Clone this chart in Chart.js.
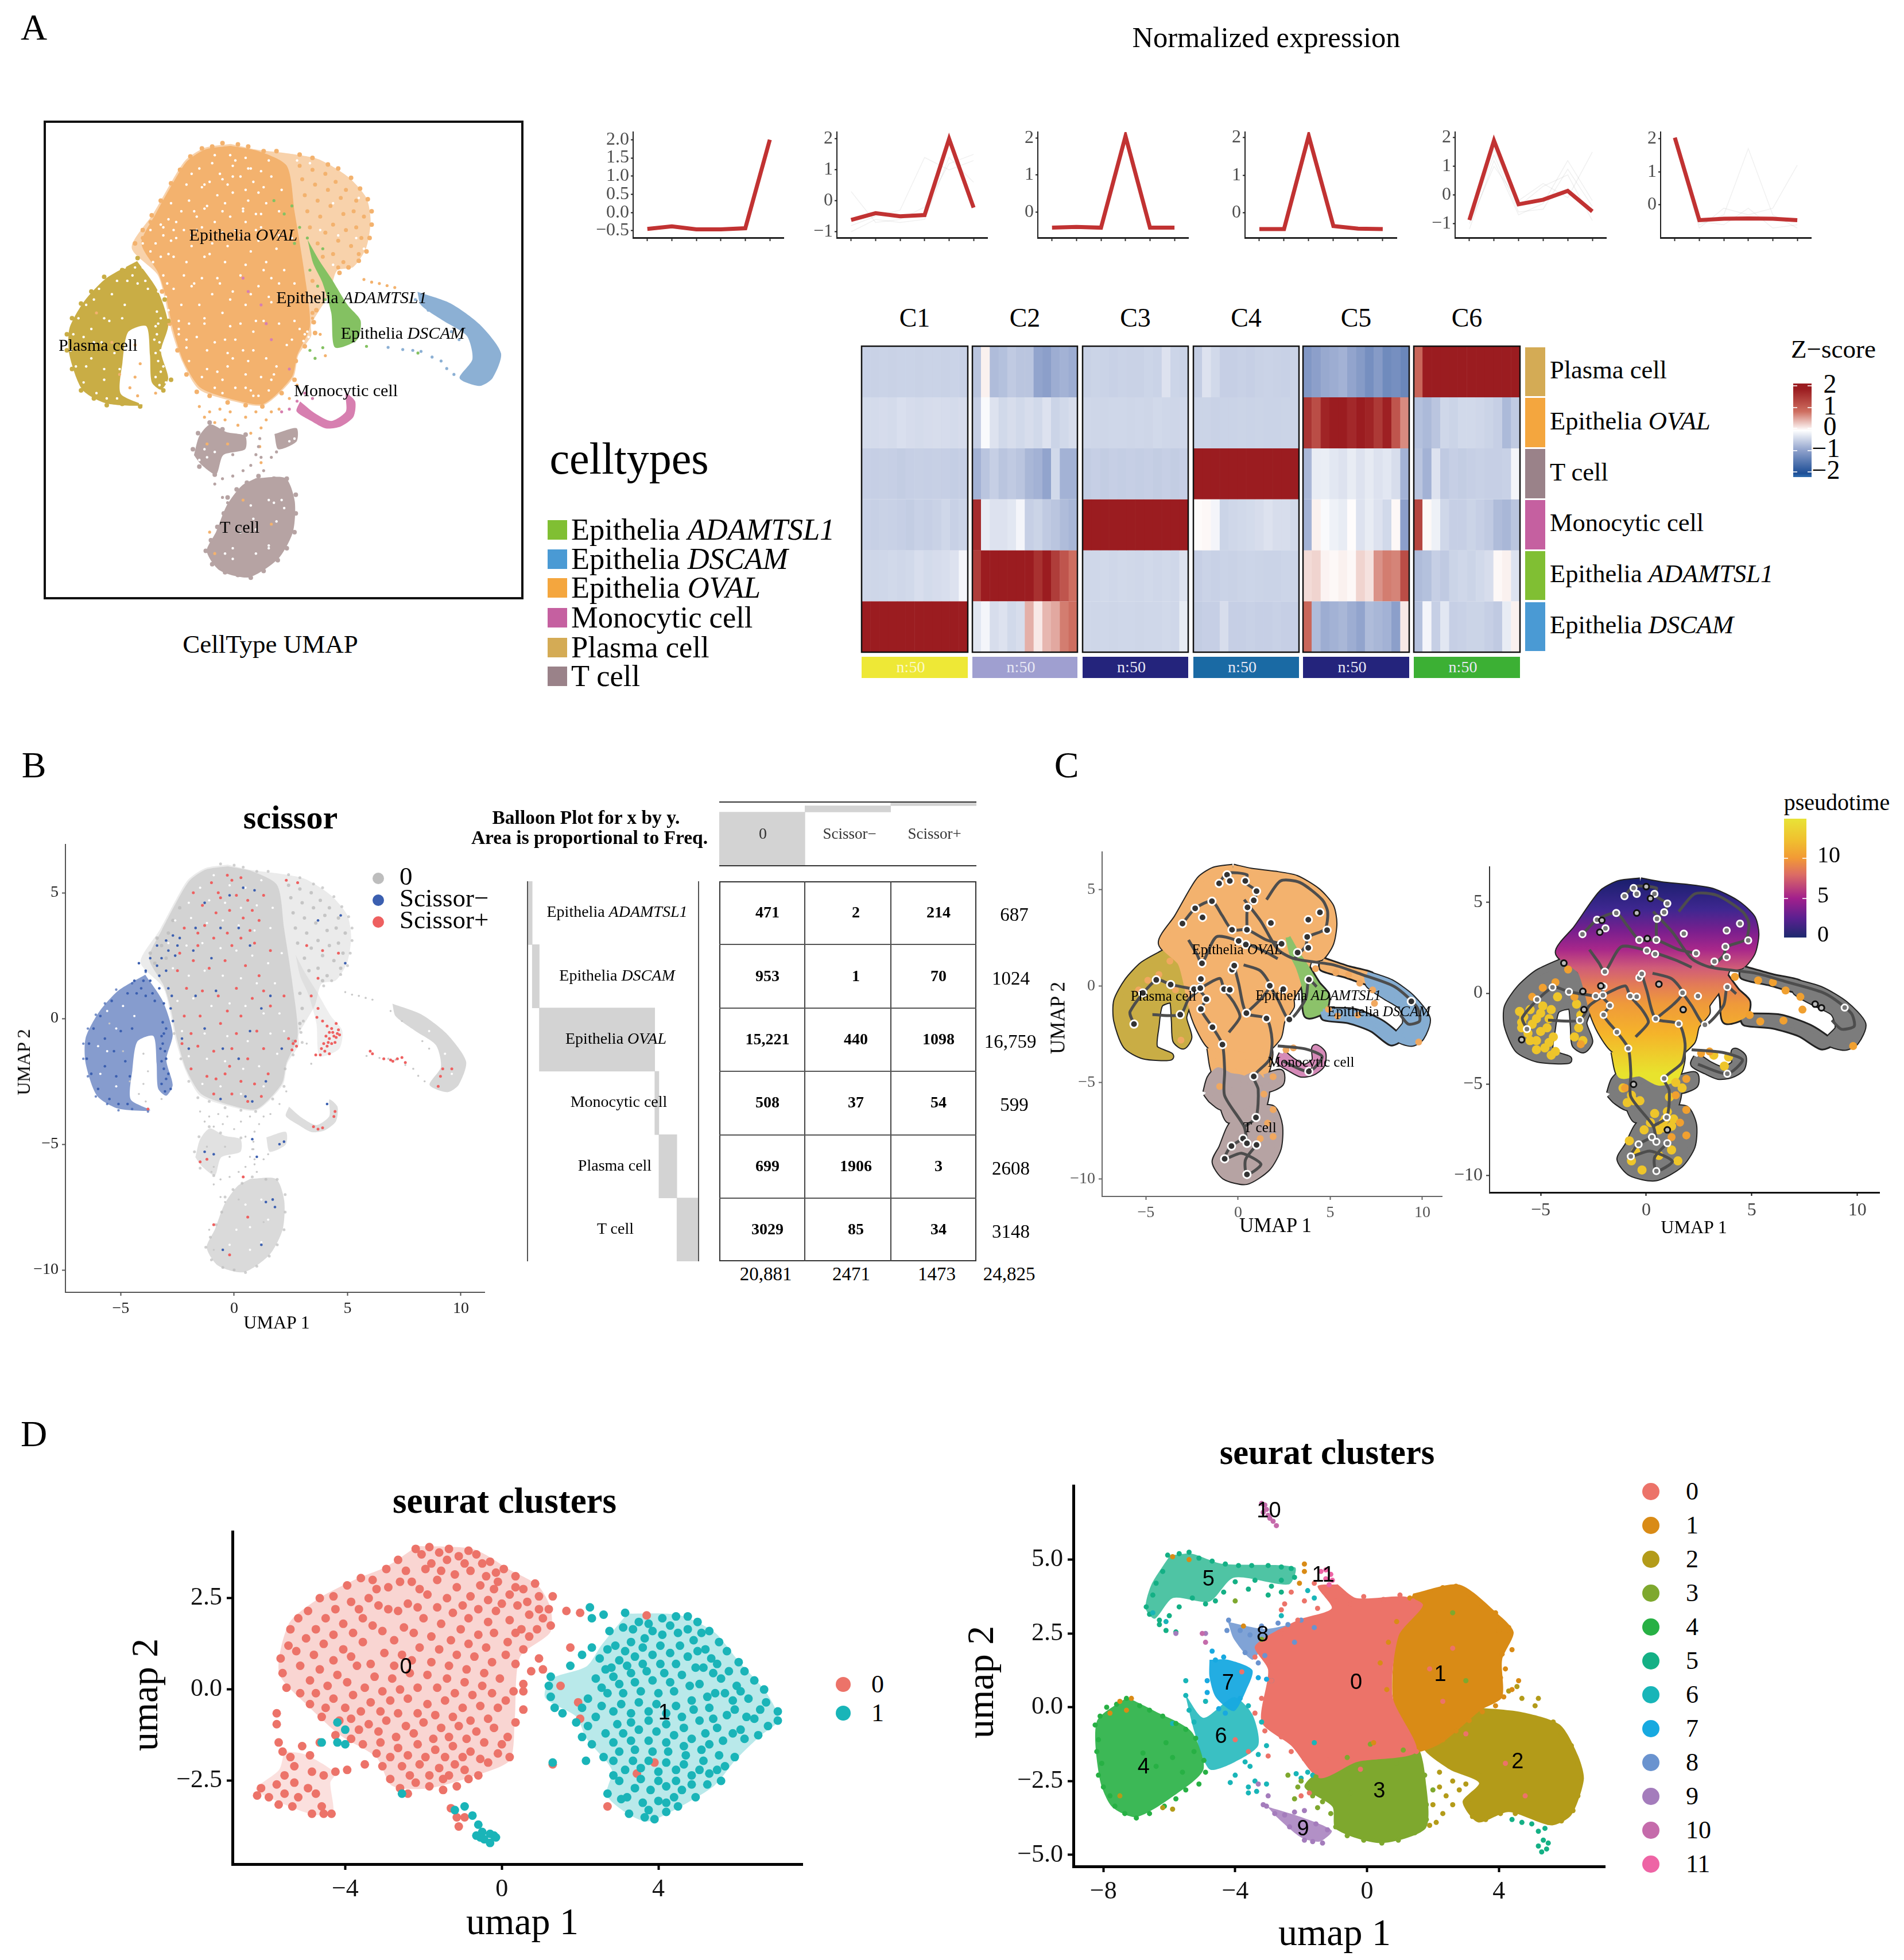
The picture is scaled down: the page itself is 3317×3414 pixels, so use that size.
<!DOCTYPE html>
<html>
<head>
<meta charset="utf-8">
<title>Cell type figure</title>
<script src="https://cdn.jsdelivr.net/npm/chart.js@4"></script>
<style>
html,body{margin:0;padding:0;background:#fff}
body{position:relative;width:3317px;height:3414px;overflow:hidden;font-family:"Liberation Serif",serif}
canvas{position:absolute}
.t{position:absolute;white-space:nowrap;transform:translate(-50%,-50%);color:#000;line-height:1}
.b{position:absolute}
</style>
</head>
<body>
<script>
// ---------- data ----------
const cellTypes = ['Epithelia ADAMTSL1','Epithelia DSCAM','Epithelia OVAL','Monocytic cell','Plasma cell','T cell'];
const rowTotals = [687,1024,16759,599,2608,3148];
const colNames = ['0','Scissor−','Scissor+'];
const colTotals = [20881,2471,1473];
const grandTotal = 24825;
const tableRows = [['471','2','214'],['953','1','70'],['15,221','440','1098'],['508','37','54'],['699','1906','3'],['3029','85','34']];
const rowTotalLabels = ['687','1024','16,759','599','2608','3148'];
const colTotalLabels = ['20,881','2471','1473','24,825'];

const umapTicksX = [-5,0,5,10];
const umapTicksY = [-10,-5,0,5];

// cluster trend lines, six time points each
const lineC1 = [-0.45,-0.38,-0.46,-0.46,-0.43,2.0];
const lineC2 = [-0.62,-0.4,-0.5,-0.46,2.0,-0.22];
const lineC3 = [-0.42,-0.4,-0.42,2.05,-0.42,-0.42];
const lineC4 = [-0.43,-0.43,2.05,-0.35,-0.42,-0.43];
const lineC5 = [-0.88,1.9,-0.33,-0.17,0.14,-0.58];
const lineC6 = [2.03,-0.46,-0.42,-0.41,-0.42,-0.46];
const faintC2 = [[-1.0,-0.6,-0.7,-0.6,1.4,0.6],[0.3,-0.7,-0.6,-0.2,1.2,1.5],[-0.8,-0.5,-0.3,1.4,1.0,1.3]];
const faintC5 = [[-1.2,1.2,-0.7,-0.3,1.2,-0.2],[-0.6,1.6,-0.4,0.3,0.7,-0.9],[-1.0,1.0,-0.2,0.4,-0.1,1.5],[-0.8,1.4,-0.6,-0.5,0.9,-0.4]];
const faintC6 = [[2.0,-0.6,-0.3,1.7,-0.3,-0.7],[1.9,-0.7,-0.1,-0.3,-0.1,1.2],[2.0,-0.5,-0.6,-0.1,-0.7,-0.6]];

// heatmap z scores: rows Plasma, OVAL, T, Monocytic, ADAMTSL1, DSCAM
const heatC1 = [
 [-.48,-.47,-.46,-.47,-.46,-.46,-.47,-.46,-.46,-.47,-.46,-.48],
 [-.38,-.37,-.36,-.37,-.33,-.36,-.37,-.36,-.35,-.36,-.37,-.36],
 [-.5,-.5,-.49,-.5,-.52,-.5,-.49,-.5,-.49,-.5,-.51,-.5],
 [-.48,-.49,-.47,-.48,-.5,-.52,-.48,-.5,-.47,-.42,-.48,-.44],
 [-.42,-.43,-.42,-.4,-.42,-.4,-.34,-.38,-.36,-.34,-.3,-.1],
 [2,2,2,2,2,2,2,2,2,2,2,2]];
const heatC2 = [
 [-.6,.1,-.7,-.65,-.55,-.6,-.6,-.95,-1,-.85,-.8,-.85],
 [-.5,-.05,-.3,-.4,-.35,-.4,-.35,-.4,-.3,-.45,-.4,-.35],
 [-.8,-.6,-.5,-.6,-.55,-.6,-.75,-.8,-.95,-.4,-.8,-.8],
 [1.8,-.2,-.3,-.3,-.25,-.1,-.5,-.45,-.55,-.6,-.7,-.75],
 [1.6,2,2,2,2,2,2,1.75,2,1.6,1.3,1.0],
 [-.25,-.1,-.35,-.3,-.4,-.35,.55,.15,.5,.6,.9,1.0]];
const heatC3 = [
 [-.47,-.45,-.46,-.48,-.46,-.47,-.47,-.44,-.46,-.3,-.44,-.46],
 [-.42,-.43,-.43,-.42,-.42,-.43,-.42,-.43,-.4,-.42,-.43,-.42],
 [-.52,-.5,-.52,-.5,-.51,-.5,-.51,-.5,-.52,-.5,-.52,-.5],
 [2,2,2,2,2,2,2,2,2,2,2,2],
 [-.42,-.42,-.4,-.42,-.4,-.41,-.42,-.4,-.42,-.4,-.42,-.3],
 [-.42,-.43,-.42,-.43,-.42,-.42,-.43,-.42,-.42,-.4,-.42,-.2]];
const heatC4 = [
 [-.52,-.3,-.4,-.5,-.5,-.48,-.5,-.47,-.46,-.47,-.48,-.46],
 [-.45,-.45,-.47,-.46,-.46,-.45,-.46,-.45,-.46,-.46,-.45,-.46],
 [2,2,2,2,2,2,2,2,2,2,2,2],
 [.03,.05,-.1,-.45,-.42,-.4,-.38,-.35,-.3,-.35,-.35,-.4],
 [-.5,-.46,-.48,-.46,-.47,-.45,-.44,-.45,-.46,-.46,-.44,-.45],
 [-.52,-.5,-.5,-.35,-.5,-.5,-.48,-.5,-.5,-.48,-.5,-.5]];
const heatC5 = [
 [-1.1,-1,-.9,-.85,-.8,-.95,-1.05,-1.2,-1.05,-1.25,-1.2,-1.3],
 [1.7,1.4,1.9,2,2,1.85,2,1.9,1.65,1.95,1.3,.8],
 [-.75,-.2,-.18,-.25,-.3,-.2,-.3,-.22,-.3,-.25,-.35,-.8],
 [-.8,.1,-.05,-.15,-.2,.02,-.3,-.2,-.3,-.4,.05,-1],
 [.25,.3,.08,.05,.1,.05,.3,.2,.75,.9,.85,1.4],
 [1.1,-.7,-.85,-.8,-.75,-.85,-.95,-.7,-.75,-.8,-1,.15]];
const heatC6 = [
 [1.1,2,2,2,2,2,2,2,2,2,2,2],
 [-.65,-.72,-.6,-.42,-.45,-.4,-.4,-.42,-.45,-.5,-.72,-.55],
 [-.6,-.8,-.3,-.55,-.5,-.52,-.5,-.48,-.5,-.5,-.48,-.1],
 [1.5,.05,-.15,-.42,-.5,-.5,-.45,-.5,-.55,-.7,-.75,-.6],
 [-.7,-.65,-.5,-.55,-.45,-.42,-.45,-.4,-.35,.05,.1,-.3],
 [-.65,-.1,-.5,-.25,-.5,-.48,-.45,-.45,-.5,-.55,-.2,.1]];

// UMAP region outlines shared by panels A, B and C
const ovalOutline = [[-.28,6.12],[.71,5.91],[2,5.76],[3.13,5.55],[4.27,4.9],[4.99,4.11],[5.16,3.25],[4.99,2.24],[4.49,1.52],[3.85,1.38],[3.56,.52],[2.85,-.63],[2.85,-1.06],[2.35,-1.78],[2.14,-2.64],[1,-3.65],[-.14,-3.51],[-1.5,-3.07],[-2.14,-2.07],[-2.56,-.92],[-2.85,.37],[-3.13,1.24],[-4.13,2.24],[-3.28,3.53],[-2.42,4.97],[-2,5.55],[-1.28,5.98]];
const ovalCore = [[-.28,6.05],[.8,5.85],[1.9,5.3],[2.2,3.6],[2.6,1.2],[2.8,-.7],[2.3,-1.8],[2.1,-2.6],[1,-3.6],[-.14,-3.45],[-1.45,-3.0],[-2.1,-2.05],[-2.5,-.9],[-2.8,.4],[-3.1,1.3],[-3.75,2.4],[-3.2,3.5],[-2.35,4.95],[-1.95,5.5],[-1.25,5.92]];
const plasmaOutline = [[-3.92,1.74],[-5.13,1.09],[-5.98,.23],[-6.55,-.78],[-6.55,-1.78],[-6.05,-3.07],[-5.13,-3.58],[-3.7,-3.65],[-4.56,-3.22],[-4.49,-2.07],[-4.27,-.92],[-3.56,-.7],[-3.42,-1.78],[-3.35,-2.79],[-2.99,-3.07],[-2.71,-2.64],[-2.99,-1.64],[-2.71,-.63],[-3.13,.66]];
const tLower = [[.71,-6.38],[1.85,-6.38],[2.21,-7.24],[2.14,-8.39],[1.57,-9.39],[.43,-10.09],[-.71,-9.83],[-1.21,-9.11],[-.85,-8.39],[-.43,-7.39],[.14,-6.67]];
const tUpperLeft = [[-1.71,-5.52],[-1.5,-4.8],[-1.07,-4.37],[-.43,-4.66],[.28,-4.8],[.28,-5.3],[-.57,-5.52],[-.85,-6.24],[-1.42,-5.88]];
const tUpperRight = [[1.42,-4.73],[2.28,-4.51],[2.28,-5.01],[1.57,-5.3]];
const monoRing = [[2.42,-3.51],[2.99,-3.95],[3.63,-4.24],[4.2,-3.88],[4.2,-3.22],[4.56,-3.51],[4.49,-4.09],[3.99,-4.45],[3.42,-4.52],[2.85,-4.24],[2.28,-3.88]];
const adamArm = [[2.71,2.53],[3.13,1.81],[3.63,1.09],[4.27,.09],[4.77,-.49],[4.63,-1.21],[3.77,-1.49],[3.63,-.2],[3.28,.95],[2.92,1.67]];
const dscamArc = [[6.98,.59],[8.26,.16],[9.4,-.63],[10.23,-1.71],[9.9,-2.64],[9.4,-2.93],[8.62,-2.64],[9.12,-1.93],[8.9,-1.06],[7.98,-.49],[7.12,.09]];
const neckFill = [[-1.5,-3.2],[1.6,-3.2],[1.4,-4.6],[.6,-4.9],[-.3,-4.4],[-1.2,-4.5]];
const tBridge = [[-.9,-5.6],[.9,-4.6],[1.5,-5.3],[1.2,-6.5],[.1,-6.8],[-.5,-6.9],[-.8,-6.2]];
const dscamBridge = [[4.6,1.3],[6,.85],[7.2,.55],[7.2,.2],[5.9,.6],[4.6,.95]];
const dscamTail = [[4.6,-1.3],[6.3,-1.35],[7.7,-1.9],[8.7,-2.7],[8.3,-2.9],[7.3,-2.2],[6,-1.75],[4.7,-1.6]];

const ovalEdge = [[-.6,6.15],[0,6.1],[.4,6.02],[1,5.85],[1.5,5.85],[2.4,5.72],[2.9,5.6],[3.5,5.35],[3.9,5.2],[4.4,4.85],[4.75,4.45],[5.05,4.05],[5.2,3.6],[5.2,3.1],[5.12,2.6],[5,2.1],[4.7,1.75],[4.3,1.5],[3.95,1.3],[3.05,-.1],[2.95,-.55],[3,-.95],[2.6,-1.45],[2.25,-2],[2.2,-2.7],[1.7,-3.2],[.95,-3.7],[.3,-3.65],[-.4,-3.55],[-1.1,-3.3],[-1.6,-3.15],[-2,-2.5],[-2.35,-1.6],[-2.65,-.6],[-2.95,.6],[-4,2.4],[-3.7,2.9],[-3.35,3.45],[-3,4],[-2.6,4.65],[-2.25,5.15],[-1.85,5.65],[-1.4,5.95],[-1,6.02]];
const sparseOval = [[2.4,5.3],[2.9,5.15],[3.4,5],[3.8,4.7],[4.2,4.4],[4.6,4],[2.5,4.8],[3,4.6],[3.5,4.4],[4,4.1],[4.5,3.6],[4.9,3.4],[2.6,4.2],[3.1,4],[3.6,3.8],[4.1,3.5],[4.6,3],[2.7,3.6],[3.2,3.4],[3.7,3.1],[4.2,2.9],[4.8,2.6],[2.8,3],[3.4,2.8],[3.9,2.5],[4.4,2.3],[4.7,2],[3.1,2.4],[3.7,2],[4.1,1.7],[3.3,1.9],[3.9,1.5],[-3.5,2.2],[-3.7,2.6],[-3.2,2.9],[-2.9,3.4],[-2.7,3.9],[-2.4,4.4],[-3.4,3.2],[-3,2.4],[2.9,1],[3,.4],[2.9,-.2],[2.6,-.9]];
const grainPts = [[-1.5,5.2],[-.9,5.7],[-.2,5.3],[.5,5.2],[1.2,5.5],[-2,4.6],[-1.1,4.7],[-.4,4.6],[.3,4.4],[1,4.5],[1.7,4.4],[-2.6,3.9],[-1.9,4],[-1.2,3.8],[-.5,3.9],[.2,3.7],[.9,3.5],[1.6,3.6],[-2.9,3],[-2.1,2.9],[-1.4,3],[-.6,2.8],[.1,2.7],[.8,2.5],[1.5,2.2],[2.1,2.6],[-2.7,2],[-2,1.7],[-1.3,1.9],[-.5,1.7],[.3,1.6],[1,1.4],[1.8,1.4],[-2.5,.7],[-1.8,.8],[-1,.5],[-.2,.6],[.5,.5],[1.3,.2],[2,.2],[-2.3,-.5],[-1.3,-.6],[-.3,-.7],[.6,-.9],[1.6,-.6],[2.2,-.5],[-2,-1.5],[-1.2,-1.6],[-.4,-1.7],[.4,-2],[1.1,-1.9],[1.9,-1.4],[-1.4,-2.6],[-.6,-2.7],[.3,-3],[1.3,-2.7],[-5.6,.3],[-5.2,-.4],[-6,-1.1],[-5.6,-1.3],[-5.2,-2.7],[-4.9,.5],[-4.4,.1],[-5.9,-2.2],[.5,-7.4],[1.2,-7.2],[1.5,-8],[.7,-8.3],[.1,-8.4],[-.2,-9],[.7,-9.2],[1.2,-8.9],[9.3,-1.4],[9.6,-2.2],[8.6,-.5]];
const tEdge = [[.8,-6.3],[1.4,-6.4],[1.9,-6.4],[2.25,-7],[2.25,-7.7],[2.2,-8.4],[1.9,-9],[1.55,-9.45],[1,-9.85],[.5,-10.1],[0,-10],[-.5,-9.9],[-1,-9.6],[-1.25,-9.1],[-1.05,-8.7],[-.8,-8.2],[-.55,-7.7],[-.4,-7.1],[-.05,-6.8],[.35,-6.55],[-1.75,-5.3],[-1.55,-4.7],[-1.1,-4.3],[-.6,-4.55],[.3,-4.75],[-1.5,-5.95],[-.9,-6.25]];
const plasmaEdge = [[-3.9,1.85],[-4.5,1.4],[-5.2,1.15],[-5.7,.6],[-6.1,.15],[-6.45,-.4],[-6.65,-1],[-6.65,-1.6],[-6.45,-2.3],[-6.1,-3.1],[-5.6,-3.4],[-5.1,-3.65],[-4.5,-3.6],[-3.8,-3.7],[-2.9,-3.1],[-2.6,-2.7],[-2.7,-.5],[-2.85,.3]];

const ovalStray = [[-1.5,-3.7],[-1.3,-4.1],[-1.1,-3.9],[-.9,-4.3],[-.7,-3.8],[-.5,-4.2],[-.3,-3.9],[0,-4.4],[.3,-4.1],[.5,-4.7],[.7,-3.9],[.9,-4.5],[1.1,-4.2],[.85,-5.2],[.9,-5.8],[1.3,-3.9],[1.6,-3.8],[2,-3.4],[2.3,-2.9],[-1.2,-5.1],[-.4,-5.1],[-3.2,-3.2],[-4,-2.6],[-4.2,-3],[-4,-1.4],[-3.8,-2.1],[4.9,1.05],[5.2,.95],[5.5,.9],[5.8,.82],[6.1,.75],[2.9,-.4],[3.2,-1],[3.4,-1.8],[-.9,-9.2],[-1.1,-8.4],[.2,-7.2],[1.3,-8.1],[-3.9,-3.3],[-4.6,-2.5],[-4.9,-1.3],[-5.5,-.2]];
const tStray = [[-1,-6.1],[-.9,-6.6],[-.6,-6.4],[-.4,-7.3],[-.2,-6.3],[.2,-6.1],[.5,-5.9],[.9,-5.6],[1,-6.1],[.8,-5.2],[-.9,-5.9],[-.2,-5.5],[1.3,-5.6],[1.5,-5.4],[.85,-4.9],[.7,-5.5],[-.6,-7.1]];
const greenStray = [[1.4,4],[1.8,3.5],[2.1,3.8],[2.4,3],[2.7,2.6],[2.2,2.4],[3.3,2.2],[2.8,1.4],[3.1,.8],[3.4,.3],[3.3,-1.5],[3,-1.9],[2.8,-1.6],[5,-1.45],[7,-1.7]];
const blueStray = [[5.84,-1.49],[6.41,-1.57],[6.8,-1.6],[7.12,-1.64],[7.55,-1.85],[7.9,-2],[8.12,-2.28],[8.4,-2.5],[8.6,-1.2],[8.3,-.9],[6.9,.3],[7.4,-.1]];
const monoStray = [[1.7,-3.9],[2,-3.8],[2.3,-3.5],[2.6,-3.2],[2.9,-3.4],[.2,1.1],[.4,.6],[.9,.1],[1.1,-.6],[1.3,-1.2],[2,-2.3]];

// scissor panel points
const bluePts = [[-3,3.1],[-2.7,3.3],[-2.5,2.9],[-2.9,2.7],[-3.4,2.9],[-3.7,2.4],[-3.2,2.4],[-4.2,2.2],[-3.9,1.9],[-4.4,1.5],[-4,1.5],[-3.7,1.5],[-3.3,1.2],[-4.7,1],[-4.3,1],[-3.9,.9],[-3.5,.7],[-3.1,.6],[-2.8,.4],[-2.7,-.1],[-3,-.4],[-3.2,-.7],[-3.15,-1],[-3.05,-1.3],[-3.2,-1.7],[-3.1,-2],[-2.9,-2.2],[-3.2,-2.6],[-3.05,-2.9],[-2.8,-2.8],[-5.4,.7],[-5.9,.1],[-6.2,-.4],[-6.4,-1],[-6.5,-1.6],[-6.3,-2.2],[-6,-2.8],[-5.5,-3.2],[-5.1,-3.4],[-4.7,-3.4],[-5.7,-.8],[-5,-.5],[-4.5,-.4],[-5.3,-1.3],[-4.8,-1.7],[-4.6,-2.3],[-5.2,-2.3],[-5.7,-1.9],[-2.3,-.8],[-1.7,.9],[-1,2.4],[-.6,3.6],[.4,5.2],[.9,5.1],[-.5,-1.2],[.7,-.5],[1.6,.9],[1.4,-2.5],[.8,-3.3],[-.6,-3.2],[-1.7,3.6],[-1.3,4.6],[3.7,3.9],[4.7,4.1],[4.9,2.2],[.8,-4.8],[1,-5.5],[2.2,-4.9],[2,-5],[1.7,-7.2],[1.8,-7.5],[1.4,-7.3],[-.5,-9.2],[1.2,-9],[-1.3,-5.3],[-.9,-5.4],[4.1,-3.4],[.5,-3.1],[-2.4,3.2],[-2.6,2.5],[-3.4,2.1],[-3,1.9],[-3.6,1],[-2.9,1.2],[-3.3,1.7],[-4.1,1.2],[-2.75,.9],[-3.15,-.15],[-3.1,-.6],[-3.25,-1.2],[-3,-1.6],[-3,-2.4],[-.2,4.9],[.7,2.9],[-.8,1.1],[-1.3,-.4],[.2,-1.6],[1.2,.4],[-1.8,2.7],[2.1,-1.2],[.2,3.6],[-2,-1.2]];
const redPts = [[-.3,5.7],[-.1,5.5],[.3,5.6],[-1,5.4],[-.7,5],[.1,4.9],[.6,4.7],[1.3,4.9],[2.3,5.5],[2.8,5.4],[-1.8,5],[-1.4,4.5],[-.8,4.2],[-.2,4.3],[.4,4],[1.1,3.9],[-2.2,3.6],[-1.6,3.4],[-.9,3.2],[-.3,3.4],[.3,3.2],[.9,3],[1.6,2.7],[3.2,2.9],[3.9,2.7],[-2.4,2.6],[-1.8,2.3],[-1.1,2],[-.4,2.3],[.5,2.1],[1.1,1.7],[-2.1,1.2],[-1.4,1.1],[-.7,.9],[.1,1.2],[.8,.8],[1.6,.5],[2.2,.9],[-2.2,.1],[-1.5,.1],[-.6,-.2],[.3,.1],[1,-.5],[-2.3,-1],[-1.6,-1.1],[-.9,-1.3],[-.1,-1.2],[.6,-1.6],[1.3,-1.2],[-1.9,-2],[-1.2,-2.3],[-.4,-2.2],[.3,-2.5],[.9,-2.6],[1.5,-2.2],[-.9,-3],[-.1,-3],[.6,-3.3],[1.2,-3.1],[2.4,-.8],[2.6,-1],[2.7,-.9],[2.75,-1.1],[2.55,-1.25],[3.4,.9],[3.7,.4],[3.9,-.1],[4.1,-.3],[4.3,-.4],[4.5,-.2],[4.55,-.6],[4.4,-.7],[4.2,-.8],[4.3,-1],[4.1,-1.1],[4,-1.3],[3.8,-1.45],[4.45,-.95],[4.6,-.45],[3.6,-1.45],[4.2,-1.4],[6.1,-1.4],[6,-1.3],[6.6,-1.6],[6.9,-1.65],[7,-1.7],[7.2,-1.6],[7.4,-1.55],[7.55,-1.75],[9.2,-2],[9.1,-2.3],[9,-2.7],[9.6,-2],[3.7,-4.4],[3.9,-4.35],[3.5,-4.3],[4.4,-3.9],[4.45,-3.7],[.6,-7.9],[-.9,-8.2],[-.2,-9.4],[.4,-6.3],[-1.2,-5.6],[-1.5,-5.7],[-3.8,-3.6],[4.35,-.55],[4.2,-.55],[4.05,-.7],[4.15,-.95],[3.95,-1],[3.85,-1.2],[4.5,-.75],[4.65,-.65],[3.65,.05],[-.6,4.8],[.8,4.3],[-1.6,2.9],[-.1,2.9],[-2.5,1.9],[-.3,.3],[1.3,1.1],[-1.9,-.6],[.1,-.6],[-.8,-2.4],[-.2,-1.9],[-1.3,3.7],[.7,3.5],[3.7,1.6],[4.6,2.6]];

// pseudotime trajectory, panel C
const trajectories = [
 [[.33,4.48],[1.24,3.35],[2.15,1.9],[3.05,1.42],[5.17,1.1],[6.68,.61],[8.49,-.03],[9.7,-1.08],[9.85,-1.81],[9.24,-1.97],[8.79,-1.48]],
 [[1.54,4.48],[2.3,5.45],[3.35,5.37],[4.56,4.48],[4.86,3.84],[4.71,2.95],[3.81,2.55],[3.66,2.06],[3.05,1.42]],
 [[-1.03,5.32],[-.6,5.85],[.48,5.77],[.39,5.37],[1,4.92],[.85,4.44],[.51,4.08],[.48,2.92]],
 [[-3.02,3.24],[-2.33,4.03],[-1.42,4.4],[-.88,3.68],[-.33,2.92],[.48,2.92],[1.54,2.39],[2.36,2.19]],
 [[-2.69,2.39],[-2.24,1.66],[-1.96,1.18],[-1.18,2.55],[.03,2.34],[1.39,1.82],[2.15,1.42]],
 [[-2.02,.37],[-2.08,-.19],[-1.72,-.68],[-2.02,-1.19],[-1.39,-2.13],[-.85,-3.03],[-.73,-4.39],[-.73,-5.68],[.33,-7.29],[.48,-8.15]],
 [[-.21,1.06],[.03,.13],[.45,-1.4],[1.54,-1.68],[1.84,-2.77],[1.69,-3.82],[.85,-4.68],[1.09,-5.35],[.97,-6.81],[.33,-7.29]],
 [[.27,-7.9],[-.42,-8.34],[-.73,-8.95],[.18,-8.66],[1.24,-9.23],[.48,-9.76],[.4,-9],[1,-8.23]],
 [[-5.65,-1.97],[-5.86,-1.32],[-4.44,.32],[-3.66,.08],[-2.39,-.16]],
 [[-4.65,-1.48],[-3.14,-1.48],[-2.69,-.68],[-2.08,-.19]],
 [[1.72,.02],[2.15,-.68],[2.78,-1.73],[3.66,-.68],[3.84,.34],[4.26,-.03]],
 [[2.15,-3.1],[3.66,-3.26],[4.56,-3.66],[3.84,-4.42],[2.45,-3.9]],
 [[-2.05,-.11],[-1,.4],[-.76,-.16],[-.2,-.9],[.1,-1.6],[-.5,-2.4]],
 [[.45,-1.4],[1.3,-.6],[1.72,.02],[1.2,.8],[.3,1.1]]];
const trajNodes = [[-.6,5.77],[-1.03,5.32],[-.45,5.45],[.39,5.45],[1,4.92],[.85,4.44],[.51,4.08],[-1.42,4.4],[-2.33,4.03],[-1.93,3.56],[-3.02,3.24],[-.33,2.92],[.48,2.92],[1.78,3.27],[.03,2.34],[.42,2.15],[2.36,2.19],[3.23,1.74],[3.75,2.55],[3.81,1.98],[3.81,3.44],[4.44,3.82],[4.83,2.9],[-1.96,1.18],[-.33,.85],[-.21,1.06],[-4.44,.32],[-3.66,.08],[-2.02,.37],[-2.39,-.16],[-2.05,-.11],[-.76,-.16],[-.45,-.19],[-1.72,-.68],[-2.02,-1.19],[-3.14,-1.48],[-5.65,-1.97],[.45,-1.4],[1.54,-1.68],[2.78,-1.73],[-1.39,-2.13],[-.85,-3.03],[3.84,.34],[1.72,.02],[2.45,-.16],[.85,-4.68],[.97,-6.81],[.27,-7.9],[.48,-8.15],[1,-8.23],[-.36,-8.29],[-.73,-8.95],[.48,-9.76],[3.84,-4.42],[9.4,-.79],[-5.17,-.35]];
const rootNodes = [[0,5.85],[.2,5.2],[-.45,4.4],[-2.1,4],[-2.2,3.35],[.05,3],[.6,.5],[-2.15,.4],[-3,.1],[-2.95,-.9],[1.75,-.9],[-5.9,-2.55],[-.6,-5],[1,-7.5],[8,-.6],[8.3,-.8],[-3.9,1.65]];
const yellowDots = [[-5.9,-1.6],[-5.5,-.9],[-5.2,-1.4],[-5.6,-2.2],[-4.9,-.7],[-4.7,-1.9],[-4.4,-2.4],[-4.2,-.2],[-5.2,-2.6],[-4.8,-3],[-4.3,-3.2],[-3.4,-2.4],[-3.1,-1.2],[-.7,-5.6],[-.9,-6],[-.6,-5.9],[1.3,-6.9],[1,-6.5],[.8,-7.1],[.4,-6.6],[-.1,-7.5],[-.5,-8.7],[-.7,-9.2],[-.8,-8.1],[-.2,-9.7],[1.2,-8.6],[1.5,-9.2],[.6,-8.9],[3.2,-3.4],[3.7,-4],[3.9,-3.5],[-6,-1],[-5.8,-1.3],[-5.4,-1.7],[-5,-1.1],[-4.6,-1.4],[-4.5,-.9],[-5.9,-1.9],[-5.5,-2.6],[-5,-2.1],[-4.6,-2.7],[-5.2,-3.1],[-4.5,-3.4],[-3.2,-1.9],[-3,-2.6],[-3.3,-.6],[.9,-7.4],[1.2,-7.3],[.6,-7.5],[.9,-6.9],[.2,-7.1],[-1.1,-5.2],[-.3,-5.9],[1.4,-4.9],[1.7,-5.2],[1.1,-5.7]];
const orangeDots = [[-4.9,.3],[-5.4,-.2],[-4.3,.6],[-3.7,1.3],[-3.4,-.2],[-3.1,-2.8],[1.9,-6.4],[1.6,-7.1],[1.9,-7.8],[1.2,-7.9],[-1,-5.2],[1.9,-4.7],[1.4,-5.6],[2.6,-3.3],[3,-3.2],[4.2,.9],[5.3,.7],[6,.6],[6.6,.15],[7.3,-.2],[7.4,-.9],[5.4,-1.55],[4.9,-1.2],[9.8,-2.9],[6.5,-1.5]];

// seurat clusters, left plot
const seuratLeft0Outline = [[-2.16,3.93],[-.72,3.84],[.2,3.28],[.92,2.85],[1.24,2.25],[1.24,1.57],[.46,.88],[.33,-.83],[.2,-1.94],[-.72,-2.37],[-1.9,-2.71],[-2.81,-2.63],[-3.2,-1.86],[-4.12,-1.26],[-4.91,-.49],[-5.69,.45],[-5.43,1.82],[-4.65,2.51],[-3.73,3.02],[-2.95,3.36]];
const seuratLeft0Tail = [[-5.56,-1.69],[-5.04,-1.77],[-4.25,-2.29],[-4.38,-2.55],[-4.32,-3.4],[-4.91,-3.4],[-6.09,-2.89],[-6.28,-2.71],[-5.69,-2.2]];
const seuratLeft1Outline = [[3.21,2.08],[4.52,2.04],[5.43,1.57],[6.03,.8],[6.74,-.06],[7.07,-.83],[6.61,-1.26],[5.96,-1.94],[5.43,-2.63],[4.52,-3.23],[3.73,-3.61],[3.21,-3.4],[2.68,-2.89],[2.81,-2.2],[2.16,-1.34],[1.9,-.74],[1.11,-.23],[1.24,.28],[2.16,.63],[2.55,1.22]];
const seuratLeft0 = [[-2.2,3.85],[-2.05,3.7],[-1.85,3.9],[-1.6,3.75],[-1.35,3.85],[-1.1,3.65],[-.85,3.8],[-.65,3.7],[-.5,3.45],[-.3,3.5],[-.15,3.2],[.05,3.3],[.35,3.1],[.55,2.75],[.85,2.9],[.95,2.55],[1.3,2.55],[1.2,2.2],[1.05,1.95],[1.25,1.75],[.9,1.65],[.7,1.45],[.55,1.1],[.35,.7],[.1,.95],[.95,.85],[.75,.5],[.55,.15],[.3,-.05],[.55,-.55],[.35,-.9],[.15,-1.3],[.2,-1.85],[-.1,-1.75],[-.35,-2],[-.6,-2.35],[-.95,-2.2],[-1.15,-2.65],[-1.5,-2.45],[-1.85,-2.65],[-2.2,-2.55],[-2.6,-2.7],[-2.85,-2.45],[-3.05,-2.1],[-3.2,-1.75],[-3.55,-1.5],[-3.85,-1.35],[-4.25,-1.25],[-4.15,-.85],[-4.6,-.75],[-4.9,-.4],[-5.15,-.1],[-5.5,.05],[-5.6,.45],[-5.65,.85],[-5.45,1.2],[-5.4,1.65],[-5.2,1.95],[-4.95,2.15],[-4.65,2.5],[-4.3,2.55],[-3.95,2.85],[-3.6,3.05],[-3.3,3],[-2.95,3.3],[-2.65,3.55],[-2.45,3.25],[-2.9,2.8],[-2.3,2.95],[-1.95,3.3],[-1.55,3.25],[-1.2,3.15],[-.8,3.25],[-.55,2.85],[-.2,2.75],[.2,2.6],[.4,2.3],[.7,2.05],[-3.85,2.4],[-3.4,2.5],[-2.9,2.2],[-2.4,2.35],[-1.9,2.6],[-1.4,2.5],[-1,2.3],[-.6,2.2],[-.15,2.15],[.2,1.9],[.5,1.65],[-4.5,1.95],[-4.05,1.8],[-3.55,1.95],[-3.05,1.6],[-2.5,1.7],[-2,1.95],[-1.55,1.8],[-1.05,1.65],[-.6,1.5],[-.2,1.55],[.15,1.3],[-5,1.4],[-4.55,1.25],[-4.05,1.1],[-3.55,1.3],[-3,1],[-2.55,.95],[-2.1,1.15],[-1.6,1.1],[-1.15,.95],[-.7,.9],[-.25,.75],[-5.15,.65],[-4.65,.55],[-4.2,.4],[-3.7,.65],[-3.25,.35],[-2.8,.3],[-2.35,.45],[-1.9,.4],[-1.4,.3],[-.95,.2],[-.5,.1],[-.05,.3],[-4.75,-.1],[-4.3,-.25],[-3.8,-.15],[-3.35,-.35],[-2.85,-.3],[-2.4,-.25],[-1.9,-.4],[-1.45,-.3],[-1,-.5],[-.55,-.45],[-.1,-.5],[-3.85,-.8],[-3.4,-.95],[-2.95,-.85],[-2.45,-1],[-2,-.9],[-1.55,-1.05],[-1.1,-1],[-.65,-1.15],[-.2,-1.05],[-3.1,-1.45],[-2.65,-1.6],[-2.15,-1.5],[-1.7,-1.65],[-1.25,-1.55],[-.8,-1.7],[-2.55,-2.1],[-2.1,-2.05],[-1.6,-2.15],[-1.2,-2.05],[-.55,-1.9],[-5.75,-.65],[-5.75,-.95],[-5.7,-1.45],[-5.6,-1.7],[-5.1,-1.55],[-4.65,-1.45],[-4.9,-1.8],[-5.4,-1.85],[-5.3,-2.1],[-4.85,-2.25],[-4.55,-2.35],[-4.25,-2.25],[-5.55,-2.35],[-5.75,-2.6],[-5.3,-2.55],[-4.95,-2.7],[-6.15,-2.7],[-6.25,-2.9],[-5.95,-2.95],[-5.55,-2.85],[-5.2,-2.95],[-4.75,-2.85],[-5.7,-3.15],[-5.35,-3.2],[-4.6,-3.2],[-4.85,-3.4],[-4.55,-3.4],[-4.35,-3.4],[-1.3,-3.25],[-1.15,-3.5],[-.95,-3.5],[-2.4,-2.85],[-3.5,-2.05],[-3.95,-2.2],[-1.5,-2.75],[1.75,1.15],[1.05,.55],[.55,-.05],[2,2.1],[1.65,2.15],[3.7,2.03],[2,-.8],[1.5,.1],[1.95,-.35],[1.3,-2.05],[3.9,-2.0],[3.45,-2.3],[2.7,-3.2],[-1.1,-3.75],[-1.8,3.45],[-1.4,3.55],[-.95,3.45],[-.4,3.1],[-.1,2.95],[.35,2.8],[.65,2.4],[.95,2.2],[-3.2,2.75],[-2.6,2.95],[-2.1,2.75],[-1.65,3],[-1.15,2.8],[-.8,2.55],[-.35,2.45],[0,2.35],[-4.25,2.2],[-3.65,2.2],[-3.15,2.3],[-2.65,2.15],[-2.15,2.25],[-1.65,2.25],[-1.25,2.1],[-.85,1.95],[-.35,1.85],[.35,1.55],[-4.75,1.65],[-4.3,1.5],[-3.8,1.55],[-3.3,1.75],[-2.75,1.35],[-2.25,1.55],[-1.8,1.45],[-1.3,1.35],[-.85,1.25],[-.4,1.15],[-5.25,1.05],[-4.8,.95],[-4.3,.8],[-3.85,.9],[-3.35,.7],[-2.75,.65],[-2.3,.8],[-1.8,.75],[-1.35,.65],[-.9,.55],[-.45,.45],[-4.9,.25],[-4.45,.1],[-3.95,.2],[-3.5,.05],[-3.05,-.05],[-2.6,0],[-2.15,.05],[-1.65,.05],[-1.2,-.1],[-.75,-.15],[-.25,-.1],[.1,-.3],[-4.5,-.5],[-4,-.5],[-3.6,-.6],[-3.1,-.6],[-2.65,-.65],[-2.15,-.65],[-1.7,-.7],[-1.25,-.75],[-.8,-.85],[-.35,-.8],[-3.65,-1.1],[-3.15,-1.15],[-2.7,-1.3],[-2.25,-1.2],[-1.75,-1.35],[-1.35,-1.3],[-.9,-1.35],[-.45,-1.45],[0,-1.5],[-2.85,-1.85],[-2.4,-1.8],[-1.95,-1.85],[-1.45,-1.85],[-1,-1.85],[-2.35,-2.35],[-1.85,-2.35],[-1.35,-2.35],[-.85,-2.45]];
const seuratLeft1 = [[2.25,2.25],[2.3,1.95],[2.6,2.05],[3.15,2.1],[3.1,1.7],[2.75,1.6],[3.5,1.85],[3.75,1.8],[4.1,1.95],[4.45,2],[4.75,2],[5,1.85],[5.3,1.6],[5.55,1.3],[5.75,1.05],[6.05,.75],[6.2,.5],[6.45,.25],[6.7,0],[6.75,-.35],[7.05,-.6],[7.05,-.85],[6.8,-1],[6.55,-1.25],[6.2,-1.35],[5.95,-1.85],[5.7,-2.1],[5.6,-2.5],[5.25,-2.6],[4.95,-2.95],[4.5,-3.2],[4.2,-3.35],[3.9,-3.55],[3.65,-3.5],[3.25,-3.4],[3.05,-3],[2.7,-2.85],[2.85,-2.35],[2.6,-1.85],[2.3,-1.5],[2.05,-1.3],[1.9,-.9],[1.55,-.65],[1.35,-.5],[1.25,-.2],[1.2,.1],[1.25,.35],[1.75,.65],[2.05,.95],[2.3,1.15],[2.5,.85],[2.65,.55],[2.9,1.2],[3.3,1.3],[3.65,1.4],[4.1,1.5],[4.5,1.55],[4.9,1.35],[5.2,1.1],[5.5,.7],[3,.8],[3.4,.9],[3.85,.95],[4.3,1],[4.75,.9],[5.15,.6],[5.6,.3],[6,.1],[2.4,.3],[2.85,.35],[3.3,.45],[3.7,.5],[4.15,.45],[4.6,.4],[5.05,.15],[5.45,-.1],[5.9,-.3],[6.3,-.25],[2.2,-.25],[2.7,-.1],[3.1,-.1],[3.55,-.05],[4,-.1],[4.4,-.05],[4.85,-.3],[5.3,-.5],[5.75,-.7],[6.25,-.75],[6.6,-.55],[2.4,-.75],[2.85,-.6],[3.3,-.65],[3.75,-.6],[4.2,-.65],[4.6,-.75],[5.05,-.85],[5.5,-1.05],[5.9,-1.2],[2.65,-1.2],[3.1,-1.2],[3.5,-1.1],[3.95,-1.15],[4.4,-1.25],[4.85,-1.35],[5.3,-1.5],[3,-1.7],[3.4,-1.65],[3.85,-1.7],[4.25,-1.7],[4.7,-1.8],[5.15,-1.95],[3.15,-2.2],[3.55,-2.15],[4,-2.25],[4.45,-2.2],[4.85,-2.35],[5.3,-2.3],[3.4,-2.7],[3.8,-2.75],[4.2,-2.65],[4.6,-2.75],[3.6,-3.1],[4,-3.05],[4.4,-2.95],[2.15,-1.95],[1.3,-2],[-.75,-3.45],[-.6,-3.7],[-.5,-3.9],[-.45,-4.1],[-.3,-4.2],[-.55,-4.05],[-.2,-4],[-.3,-3.95],[-.65,-4],[-.15,-4.05],[-.95,-3.2],[-1.2,-3.3],[-4.2,-.9],[-4,-1.1],[-4.6,-1.45],[-4.2,-1.45],[-4,-1.5],[-2.55,-2.85],[3.35,1.65],[3.85,1.6],[4.3,1.75],[4.75,1.65],[5.1,1.55],[2.7,1.1],[3.15,1.05],[3.6,1.15],[4.05,1.2],[4.55,1.2],[5,1.05],[5.35,.85],[2.8,.6],[3.2,.65],[3.6,.7],[4.05,.7],[4.45,.7],[4.95,.6],[5.4,.45],[5.8,.5],[2.55,.05],[3,.15],[3.4,.2],[3.85,.25],[4.3,.2],[4.8,.1],[5.25,-.2],[5.7,-.1],[6.1,-.05],[2.05,-.5],[2.55,-.45],[3.05,-.4],[3.5,-.35],[3.95,-.4],[4.45,-.45],[4.9,-.55],[5.4,-.8],[5.95,-.55],[6.45,-.8],[2.2,-1],[2.95,-.95],[3.3,-.9],[3.75,-.85],[4.2,-.95],[4.65,-1.05],[5.2,-1.2],[5.65,-1.4],[6.1,-1.1],[2.85,-1.45],[3.3,-1.4],[3.75,-1.4],[4.2,-1.45],[4.65,-1.55],[5.1,-1.65],[5.55,-1.8],[2.85,-1.95],[3.35,-1.95],[3.75,-1.95],[4.2,-2],[4.65,-2.05],[5.05,-2.2],[5.5,-2.2],[3,-2.5],[3.55,-2.45],[4,-2.5],[4.45,-2.5],[4.85,-2.6],[3.2,-2.95],[3.75,-3.3],[4.2,-3.1]];

// seurat clusters, right plot
const seurat0Outline = [[-.89,4.16],[-.33,3.7],[1.15,3.75],[1.7,3.46],[.96,2.42],[.78,.34],[1.5,-1.5],[-.3,-1.85],[-1.44,-2.4],[-2.3,-1.3],[-3.2,-.5],[-3,1.26],[-3.4,2.07],[-2.1,2.95],[-1.07,3.35],[-1.5,4.1]];
const seurat1Outline = [[1.4,3.85],[2.81,4.15],[3.98,3.15],[4.45,2.54],[4.1,1.61],[4.1,.34],[3.45,-.1],[2.2,-1.25],[1.3,-1.5],[.78,.34],[.9,2.42]];
const seurat2Outline = [[3.2,0],[4.67,-.16],[5.85,-.59],[6.4,-1.63],[6.58,-2.44],[6.2,-3.65],[5.59,-4],[4.3,-3.55],[3.37,-3.9],[2.9,-3.2],[3.4,-2.56],[2.5,-2.1],[1.7,-1.3]];
const seurat3Outline = [[.1,-1.1],[1.5,-1.3],[1.8,-2.68],[1.78,-4.1],[.41,-4.6],[-.95,-4.12],[-1.05,-3.37],[-1.9,-2.68],[-1,-1.8]];
const seurat4Outline = [[-7.28,.34],[-6.44,-.13],[-5.33,-.82],[-4.96,-2.1],[-5.89,-3.02],[-7,-3.72],[-7.74,-3.37],[-8.11,-2.44],[-8.2,-.48]];
const seurat5Outline = [[-5.98,5.14],[-5.33,5.2],[-4.41,4.86],[-2.19,4.74],[-2.37,4.16],[-4.04,4.39],[-4.78,3.58],[-5.89,3.7],[-6.44,3],[-6.72,3.35],[-6.54,4.16]];
const seurat6Outline = [[-5.52,.45],[-4.96,-.36],[-4.04,.34],[-3.48,-.24],[-3.3,-1.29],[-4.04,-1.87],[-4.78,-2.1],[-5.24,-.82]];
const seurat7Outline = [[-4.78,1.61],[-4.22,1.61],[-3.48,1.26],[-3.67,.57],[-4.04,-.13],[-4.59,.34],[-4.78,1.03]];
const seurat8Outline = [[-4.22,2.89],[-3.11,2.65],[-2,2.83],[-2.19,2.31],[-3.11,2.07],[-3.48,1.61],[-4.04,2.31]];
const seurat9Outline = [[-3.02,-3.37],[-2,-3.72],[-1.07,-4.18],[-1.44,-4.55],[-2,-4.41],[-2.74,-3.72]];
const seuratDots0 = [[-1.6,4.2],[-1.2,3.95],[-.75,3.9],[-.95,3.6],[-.5,3.5],[-.1,3.75],[.5,3.65],[1,3.8],[1.4,3.6],[-2.1,2.95],[-2.6,2.5],[-3.1,2.05],[-3.4,1.7],[-3,1.5],[-2.9,.9],[-3.2,.3],[-3.4,-.2],[-3.1,-.8],[-2.6,-1],[-2.3,-1.5],[-1.9,-1.75],[-1.5,-2.2],[-1.2,-1.8],[-1.75,-2.9],[-2,-3],[-3.8,1.2],[-2.5,3.5],[-2.3,3.9],[-2.6,3.3],[-1.9,3.6],[-1.5,3.35],[-3,-1.65],[-4,-1.1],[-3.6,-1.5],[1.5,-1.5],[2.3,.2],[1.9,1.3],[2.6,2],[3,-.9],[4.8,-3],[4.2,-1.9],[-.2,-2.1]];
const seuratDots1 = [[1.3,3.7],[1.9,3.9],[2.3,4.05],[2.7,4.1],[3.1,3.85],[3.5,3.45],[3.9,3.2],[4.05,2.9],[4.3,2.7],[4.35,2.5],[4,2.6],[4.1,1.8],[4.2,1.3],[4.4,1.95],[4.05,1],[4.6,.9],[4.4,.6],[4.15,.35],[3.9,.05],[3.5,-.15],[3.1,-.45],[2.7,-.8],[2.3,-1.1],[.6,.6],[.4,1.5],[.65,2.2],[.9,2.9],[-1.9,4.6],[-2.05,4.2],[-1.9,4.85],[-3.75,2.75],[.2,-1.2],[-5.4,5],[-5.9,5.1],[-7.3,-.1],[-7.8,-.2],[-7.5,.2],[-7.15,.3]];
const seuratDots2 = [[4.3,.55],[4.55,.7],[4.7,.3],[5.1,.05],[5.2,.3],[5.65,-.5],[5.9,-.9],[6.2,-1.3],[6.4,-1.9],[6.5,-2.4],[6.4,-3],[6.25,-3.5],[5.9,-3.85],[5.5,-3.9],[5,-3.6],[4.5,-3.6],[4.05,-3.6],[3.6,-3.8],[3.2,-3.7],[3.05,-3.2],[2.6,-3.3],[2.3,-3.6],[2.1,-3.9],[1.9,-4],[2.6,-2.5],[2.8,-2.8],[2.2,-2.7],[2.4,-3],[3,-2.6],[3.4,-2.3],[2.2,-2.2],[2,-3.3],[-6.2,-3.4],[-5.9,-3.45],[-7.5,-3]];
const seuratDots3 = [[-1.55,-2.35],[-2,-2.5],[-2.4,-2.3],[-2.1,-2.7],[-1.65,-3],[-1.35,-3.2],[-1.5,-3.4],[-.9,-2.3],[-.6,-1.7],[.1,-1.25],[1.1,-1.45],[1.75,-2.3],[2,-2.8],[1.8,-3.3],[1.8,-3.8],[1.45,-4.25],[.95,-4.5],[.45,-4.6],[-.1,-4.5],[-.6,-4.35],[-.95,-4.05],[-1.1,-3.6],[-.5,-2.9],[.9,-1.9],[-2.2,-3.1],[3,.9],[2.6,3.2],[-4,3.6],[-3.2,2.3]];
const seuratDots4 = [[-7.3,.3],[-6.9,.05],[-6.6,-.1],[-6.2,-.3],[-5.8,-.55],[-5.5,-.75],[-5.2,-1.05],[-5.25,-1.5],[-4.95,-1.8],[-4.9,-2.2],[-5.1,-2.6],[-5.5,-2.8],[-5.8,-3.1],[-6.15,-3.35],[-6.6,-3.6],[-7,-3.75],[-7.35,-3.6],[-7.65,-3.35],[-7.8,-3],[-8,-2.7],[-8.15,-2.3],[-8.05,-1.9],[-8.2,-1.5],[-8.15,-1.1],[-8.25,-.6],[-8.1,-.3],[-7.9,0],[-7.6,.1],[-6.1,-1.2],[-5.9,-1.7],[-6.4,-2],[-6.8,-1.55],[-5.6,-2.2]];
const seuratDots5 = [[-6.05,5.15],[-5.7,5.2],[-5.4,5.25],[-5.1,5.05],[-4.7,4.95],[-4.3,4.85],[-3.9,4.8],[-3.5,4.8],[-3,4.8],[-2.6,4.75],[-2.3,4.7],[-2.2,4.4],[-2.6,4.3],[-2.9,4.1],[-3,3.8],[-2.6,3.9],[-3.4,4.3],[-3.6,4],[-4,4.25],[-4.35,3.9],[-4.6,3.6],[-4.9,3.5],[-5.3,3.7],[-5.7,3.4],[-6,3.1],[-6.3,2.95],[-6.6,3.15],[-6.7,3.4],[-6.5,3.8],[-6.4,4.2],[-6.2,4.6],[-6.3,2.8],[-6.1,2.6],[-5.8,2.55],[5.2,-4.2],[5.35,-4.5],[5.45,-4.8],[5.3,-4.9],[5.5,-4.6],[5.2,-4.7],[5.4,-4.1],[5,-3.95],[4.7,-3.9],[4.4,-3.8]];
const seuratDots6 = [[-5.5,.9],[-5.5,.4],[-5.4,-.1],[-5.25,-.5],[-4.9,.2],[-3.6,.05],[-3.2,-.5],[-3.05,-1.3],[-3.3,-1.6],[-3.7,-1.85],[-3.55,-2],[-4,-2.3],[-4.15,-2.55],[-3.4,-2.5],[-3.05,-2.6],[-3.6,-2.7],[-3.6,-2.9],[-3.35,-2.85],[-2.15,-2.25],[-2,-2.4],[-1.8,-2.2],[-1.65,-2.3],[-1.6,-1.2],[-5.9,-.55],[-6.5,3.2],[-1.6,3.7],[-1.8,3.95],[-2.6,3.1],[-6.1,2.9]];
const seuratDots7 = [[-4.7,1.9],[-4.6,1.6],[-4.35,1.7],[-3.3,1],[-3.05,.95],[-2.9,.9],[-4.85,.9],[-4.85,.5],[-4.5,-.05],[-4.3,-.2],[-3.85,.3]];
const seuratDots8 = [[-4.2,2.95],[-4.25,2.6],[-3.85,2.6],[-3.55,2.45],[-3.2,2.75],[-2.7,2.85],[-2.4,2.8],[-2,2.95],[-1.6,2.7],[-2.2,2.2],[-3.1,1.75],[-3.3,1.5],[-3.7,1.85]];
const seuratDots9 = [[-3,-3],[-3.05,-3.35],[-3.15,-3.3],[-2.8,-3.6],[-2.5,-3.65],[-2.2,-3.55],[-1.9,-3.5],[-1.55,-3.95],[-1.2,-4.15],[-1.9,-4.5],[-1.65,-4.55],[-1.35,-4.6],[-2.35,-4.05],[-3.3,-2.6],[-5.8,2.5],[-4.9,2.5]];
const seuratDots10 = [[-3.2,6.9],[-3.1,6.85],[-3.05,6.7],[-3,6.5],[-2.95,6.4],[-2.85,6.3],[-2.75,6.15],[-3.15,6.6],[-5,2.5],[-4.9,2.2]];
const seuratDots11 = [[-1.4,4.6],[-1.25,4.65],[-1.1,4.5],[-1.05,4.3],[-1.25,4.35],[-1.15,4.15]];

const clusterColors = ['#ec7369','#d98b16','#b39b19','#7ea82e','#27b044','#14b085','#18b5b8','#17a9e0','#6a93cf','#a47cbc','#c56bab','#ee64a5'];
const heatBarColors = ['#eee836','#9f9fd0','#24247c','#1a6aa4','#24247c','#3cb034'];

// ---------- helpers ----------
const serif = '"Liberation Serif", serif';
const sans = '"Liberation Sans", sans-serif';
Chart.defaults.font.family = serif;
Chart.defaults.animation = false;

const xy = a => a.map(p => ({x: p[0], y: p[1]}));
const minusFmt = (v, d) => Number(v).toFixed(d).replace('-', '−');

function txt(s, x, y, size, o) {
  o = o || {};
  const d = document.createElement('div');
  d.className = 't';
  d.innerHTML = s;
  d.style.left = x + 'px';
  d.style.top = y + 'px';
  d.style.fontSize = size + 'px';
  if (o.bold) d.style.fontWeight = 'bold';
  if (o.color) d.style.color = o.color;
  if (o.family) d.style.fontFamily = o.family;
  if (o.left) d.style.transform = 'translate(0,-50%)';
  if (o.rot) d.style.transform = 'translate(-50%,-50%) rotate(-90deg)';
  document.body.appendChild(d);
}

function box(x, y, w, h, css) {
  const d = document.createElement('div');
  d.className = 'b';
  d.style.cssText = 'left:' + x + 'px;top:' + y + 'px;width:' + w + 'px;height:' + h + 'px;' + (css || '');
  document.body.appendChild(d);
  return d;
}

// area = plot rectangle on the page [left, top, right, bottom], m = room around it
function plot(area, cfg, m) {
  m = m || {l: 90, r: 30, t: 30, b: 80};
  const c = document.createElement('canvas');
  c.width = area[2] - area[0] + m.l + m.r;
  c.height = area[3] - area[1] + m.t + m.b;
  c.style.left = (area[0] - m.l) + 'px';
  c.style.top = (area[1] - m.t) + 'px';
  document.body.appendChild(c);
  const sx = cfg.options.scales.x, sy = cfg.options.scales.y;
  const showX = sx.display !== false, showY = sy.display !== false;
  if (showX) sx.afterFit = s => { s.height = m.b; s.paddingLeft = 0; s.paddingRight = 0; };
  if (showY) sy.afterFit = s => { s.width = m.l; s.paddingTop = 0; s.paddingBottom = 0; };
  cfg.options.responsive = false;
  cfg.options.devicePixelRatio = 1;
  cfg.options.layout = {padding: {top: m.t, right: m.r, left: showY ? 0 : m.l, bottom: showX ? 0 : m.b}};
  cfg.options.plugins = Object.assign({legend: {display: false}, tooltip: {enabled: false}}, cfg.options.plugins);
  return new Chart(c, cfg);
}

function axis(min, max, ticks, o) {
  o = o || {};
  return {
    type: 'linear', min: min, max: max,
    afterBuildTicks: s => { s.ticks = ticks.map(v => ({value: v})); },
    ticks: {
      display: o.labels !== false,
      autoSkip: false, maxRotation: 0, padding: o.pad === undefined ? 6 : o.pad,
      color: o.color || '#222',
      font: {family: serif, size: o.size || 28},
      callback: v => minusFmt(v, o.dec || 0)
    },
    grid: {drawOnChartArea: false, tickLength: o.tick || 6, tickColor: o.tickColor || o.line || '#555', tickWidth: o.tickWidth || 2},
    border: {color: o.line || '#555', width: o.width || 2}
  };
}

function area(pts, color, o) {
  return Object.assign({
    data: xy(pts.concat([pts[0]])), showLine: true, fill: 'shape', tension: .25,
    backgroundColor: color, borderColor: 'rgba(0,0,0,0)', borderWidth: 0, pointRadius: 0
  }, o || {});
}
function dots(pts, color, r, o) {
  return Object.assign({data: xy(pts), backgroundColor: color, borderWidth: 0, pointRadius: r, pointBorderWidth: 0}, o || {});
}
function path(pts, color, w) {
  return {data: xy(pts), showLine: true, fill: false, tension: .25, borderColor: color, borderWidth: w, pointRadius: 0};
}

// text labels placed on data coordinates, plain part + italic part
function mapText(items, size, family) {
  return {
    id: 'mapText',
    afterDatasetsDraw(chart) {
      const g = chart.ctx, sx = chart.scales.x, sy = chart.scales.y;
      g.save();
      g.fillStyle = '#000';
      g.textBaseline = 'middle';
      items.forEach(it => {
        const plain = it[0], ital = it[1];
        g.font = size + 'px ' + family;
        const w1 = g.measureText(plain).width;
        g.font = 'italic ' + size + 'px ' + family;
        const w2 = ital ? g.measureText(ital).width : 0;
        let x = sx.getPixelForValue(it[2]) - (w1 + w2) / 2;
        const y = sy.getPixelForValue(it[3]);
        g.font = size + 'px ' + family;
        g.fillText(plain, x, y);
        if (ital) {
          g.font = 'italic ' + size + 'px ' + family;
          g.fillText(ital, x + w1, y);
        }
      });
      g.restore();
    }
  };
}

const frame = w => ({
  id: 'frame',
  afterDraw(chart) {
    const a = chart.chartArea, g = chart.ctx;
    g.save();
    g.strokeStyle = '#111';
    g.lineWidth = w;
    g.strokeRect(a.left, a.top, a.right - a.left, a.bottom - a.top);
    g.restore();
  }
});

function scatterPlot(rect, xA, yA, layers, plugins, m) {
  // layers are listed bottom first, Chart.js paints the first dataset last
  return plot(rect, {
    type: 'scatter',
    data: {datasets: layers.slice().reverse()},
    options: {scales: {x: xA, y: yA}},
    plugins: plugins || []
  }, m);
}

// ---------- panel letters and headings ----------
txt('A', 59, 48, 64); txt('B', 59, 1333, 64); txt('C', 1858, 1333, 64); txt('D', 59, 2498, 64);
txt('Normalized expression', 2206, 65, 50.5);

// ---------- panel A: cell type UMAP ----------
const hidden = (min, max) => ({type: 'linear', display: false, min: min, max: max});
const aColors = {oval: '#f3b26e', plasma: '#c9ad45', t: '#b6a3a3', mono: '#d77fb0', adam: '#84c162', dscam: '#8cb0d4'};
scatterPlot([78, 212, 910, 1042], hidden(-7.51, 11.06), hidden(-10.87, 6.95), [
  area(ovalOutline, 'rgba(243,178,110,.58)'),
  dots(sparseOval, aColors.oval, 3.5),
  area(ovalCore, aColors.oval),
  area(plasmaOutline, aColors.plasma),
  area(tLower, aColors.t), area(tUpperLeft, aColors.t), area(tUpperRight, aColors.t),
  dots(grainPts.concat(redPts, bluePts), '#fff', 2.2),
  dots(ovalEdge, aColors.oval, 4), dots(plasmaEdge, aColors.plasma, 4), dots(tEdge, aColors.t, 4),
  area(monoRing, aColors.mono), area(adamArm, aColors.adam), area(dscamArc, aColors.dscam),
  dots(ovalStray, aColors.oval, 2.6), dots(tStray, aColors.t, 2.6), dots(greenStray, aColors.adam, 2.6),
  dots(blueStray, aColors.dscam, 2.6), dots(monoStray, aColors.mono, 2.6)
], [mapText([['Epithelia ', 'OVAL', .21, 2.67], ['Plasma cell', '', -5.44, -1.44], ['Epithelia ', 'ADAMTSL1', 4.42, .33], ['Epithelia ', 'DSCAM', 6.41, -.99], ['Monocytic cell', '', 4.2, -3.15], ['T cell', '', .07, -8.25]], 30, serif), frame(4)], {l: 4, r: 4, t: 4, b: 4});
txt('CellType UMAP', 471, 1122, 45);

// legend of cell types
const legendSwatches = ['#80bf33', '#4a9ad4', '#f4a63e', '#c560a0', '#d4ab55', '#9a8289'];
const legendRows = ['Epithelia <i>ADAMTSL1</i>', 'Epithelia <i>DSCAM</i>', 'Epithelia <i>OVAL</i>', 'Monocytic cell', 'Plasma cell', 'T cell'];
const legendY = [923, 974, 1024, 1076, 1128, 1178];
txt('celltypes', 1096, 799, 78);
legendRows.forEach((s, i) => {
  box(954, legendY[i] - 17, 34, 34, 'background:' + legendSwatches[i]);
  txt(s, 995, legendY[i] - 1, 52.5, {left: true});
});

// ---------- panel A: trend lines ----------
const lineSeries = [lineC1, lineC2, lineC3, lineC4, lineC5, lineC6];
const faintSeries = [[], faintC2, [], [], faintC5, faintC6];
const lineRects = [[1103,230,1365,414],[1458,230,1720,414],[1808,230,2070,414],[2169,230,2433,414],[2535,230,2798,414],[2893,230,3155,414]];
const lineYRange = [[-.69,2.21],[-1.19,2.22],[-.69,2.16],[-.66,2.15],[-1.5,2.2],[-.99,2.2]];
const lineYTicks = [[-.5,0,.5,1,1.5,2],[-1,0,1,2],[0,1,2],[0,1,2],[-1,0,1,2],[0,1,2]];
const timePoints = [1,2,3,4,5,6];
lineSeries.forEach((vals, i) => {
  const layers = faintSeries[i].map(f => path(f.map((v, k) => [timePoints[k], v]), 'rgba(170,170,170,.18)', 1.5));
  const main = path(vals.map((v, k) => [timePoints[k], v]), '#c13232', 7);
  main.tension = 0;
  layers.forEach(l => { l.tension = 0; });
  layers.push(main);
  scatterPlot(lineRects[i],
    axis(.42, 6.56, timePoints, {labels: false, line: '#222', width: 3, tick: 6, tickColor: '#333'}),
    axis(lineYRange[i][0], lineYRange[i][1], lineYTicks[i], {size: 32, dec: i === 0 ? 1 : 0, color: '#4d4d4d', line: '#222', tick: 4, pad: 3}),
    layers, [], {l: 90, r: 6, t: 12, b: 14});
});

// ---------- panel A: heatmap ----------
const heatPanels = [heatC1, heatC2, heatC3, heatC4, heatC5, heatC6];
const heatRects = [[1501,603,1686,1136],[1694,603,1877,1136],[1886,603,2070,1136],[2079,603,2263,1136],[2270,603,2455,1136],[2463,603,2648,1136]];
const heatNames = ['C1','C2','C3','C4','C5','C6'];
const heatStops = [[-2,[29,78,150]],[-1,[140,159,202]],[0,[255,255,255]],[1,[206,110,96]],[2,[155,28,32]]];
function zColor(z) {
  z = Math.max(-2, Math.min(2, z));
  for (let i = 1; i < heatStops.length; i++) {
    if (z <= heatStops[i][0]) {
      const a = heatStops[i - 1], b = heatStops[i], t = (z - a[0]) / (b[0] - a[0]);
      const c = a[1].map((v, k) => Math.round(v + (b[1][k] - v) * t));
      return 'rgb(' + c.join(',') + ')';
    }
  }
}
heatPanels.forEach((rows, i) => {
  const cols = rows[0].map((_, k) => String(k));
  plot(heatRects[i], {
    type: 'bar',
    data: {labels: cols, datasets: rows.map(r => {
      const fills = r.map(zColor);
      return {data: r.map(() => 1), backgroundColor: fills, borderColor: fills, borderWidth: .6, barPercentage: 1, categoryPercentage: 1};
    })},
    options: {scales: {
      x: {type: 'category', display: false, stacked: true},
      y: {type: 'linear', display: false, stacked: true, min: 0, max: 6, reverse: true}
    }},
    plugins: [frame(2.5)]
  }, {l: 2, r: 2, t: 2, b: 2});
  txt(heatNames[i], (heatRects[i][0] + heatRects[i][2]) / 2, 554, 46);
  box(heatRects[i][0], 1144, heatRects[i][2] - heatRects[i][0], 37, 'background:' + heatBarColors[i]);
  txt('n:50', (heatRects[i][0] + heatRects[i][2]) / 2 - 7, 1162, 28, {color: i === 0 ? '#fbf9c8' : '#e8e8f4'});
});

const annoNames = ['Plasma cell', 'Epithelia <i>OVAL</i>', 'T cell', 'Monocytic cell', 'Epithelia <i>ADAMTSL1</i>', 'Epithelia <i>DSCAM</i>'];
const annoColors = ['#d4ab55', '#f4a63e', '#9a8289', '#c560a0', '#80bf33', '#4a9ad4'];
annoNames.forEach((s, i) => {
  const y0 = 603 + i * 88.8;
  box(2657, y0 + 1.5, 35, 85.8, 'background:' + annoColors[i]);
  txt(s, 2700, y0 + 41, 44.5, {left: true});
});

function colorBar(x, y, w, h, grad, marks) {
  box(x, y, w, h, 'background:linear-gradient(to bottom,' + grad + ')');
  marks.forEach(my => {
    box(x, my - 1, 7, 2, 'background:rgba(255,255,255,.8)');
    box(x + w - 7, my - 1, 7, 2, 'background:rgba(255,255,255,.8)');
  });
}
txt('Z−score', 3194, 608, 45);
colorBar(3124, 668, 32, 163, '#9b1c20 0%,#9b1c20 6%,#ce6e60 30%,#ffffff 50%,#8c9fca 72%,#1d4e96 96%,#2f6db0 100%', [672, 710, 746, 785, 822]);
const zTickLabels = ['2', '1', '0', '−1', '−2'];
const zTickY = [669, 707, 743, 781, 819];
zTickLabels.forEach((s, i) => txt(s, i < 3 ? 3188 : 3181, zTickY[i], 46, {}));

// ---------- panel B: scissor UMAP ----------
const g = a => 'rgba(188,188,188,' + a + ')';
scatterPlot([114, 1471, 844, 2251], axis(-7.44, 11.04, umapTicksX), axis(-10.89, 6.92, umapTicksY), [
  area(ovalOutline, g(.3)),
  dots(sparseOval, g(.8), 3),
  area(ovalCore, g(.5)),
  area(plasmaOutline, 'rgba(59,95,176,.62)'),
  area(tLower, g(.55)), area(tUpperLeft, g(.45)), area(tUpperRight, g(.45)),
  area(monoRing, g(.5)), area(adamArm, g(.25)), area(dscamArc, g(.6)),
  dots(grainPts, '#fff', 2),
  dots(ovalEdge.slice(0, 34), g(.7), 2.5), dots(tEdge, g(.7), 2.5),
  dots(plasmaEdge.slice(0, 14), 'rgba(59,95,176,.7)', 2.2),
  dots(ovalStray, '#c8c8c8', 1.8), dots(tStray, '#c8c8c8', 1.8), dots(blueStray, '#c8c8c8', 1.8),
  dots(bluePts, '#3b5fb0', 2.3), dots(redPts, '#ee6060', 2.5)
]);
txt('scissor', 506, 1424, 58, {bold: true});
txt('UMAP 1', 482, 2303, 32);
txt('UMAP 2', 41, 1850, 32, {rot: true});
const scissorColors = ['#bdbdbd', '#3b5fb0', '#ee6060'];
const scissorY = [1530, 1568, 1606];
colNames.forEach((s, i) => {
  box(649, scissorY[i] - 10, 20, 20, 'border-radius:50%;background:' + scissorColors[i]);
  txt(s, 696, scissorY[i] - 4, 45, {left: true});
});

// ---------- panel B: balloon plot table ----------
txt('Balloon Plot for x by y.', 1021, 1424, 33.5, {bold: true});
txt('Area is proportional to Freq.', 1027, 1459, 33.5, {bold: true});

let colRun = 0;
const colBars = colTotals.map(v => { const b = [colRun, colRun + v]; colRun += v; return b; });
plot([1253, 1397, 1701, 1507], {
  type: 'bar',
  data: {labels: colNames, datasets: [{data: colBars, backgroundColor: '#d3d3d3', borderWidth: 0, barPercentage: 1, categoryPercentage: 1}]},
  options: {scales: {x: {type: 'category', display: false}, y: hidden(0, grandTotal)}}
}, {l: 1, r: 1, t: 1, b: 1});
box(1253, 1396, 448, 2, 'background:#333');
box(1253, 1507, 448, 2, 'background:#333');

let rowRun = 0;
const rowBars = rowTotals.map(v => { const b = [rowRun, rowRun + v]; rowRun += v; return b; });
plot([919, 1535, 1217, 2197], {
  type: 'bar',
  data: {labels: cellTypes, datasets: [{data: rowBars, backgroundColor: '#d3d3d3', borderWidth: 0, barPercentage: 1, categoryPercentage: 1}]},
  options: {indexAxis: 'y', scales: {x: hidden(0, grandTotal), y: {type: 'category', display: false}}}
}, {l: 1, r: 1, t: 1, b: 1});
box(918, 1535, 2, 662, 'background:#555');
box(1216, 1535, 2, 662, 'background:#555');

const tableX = [1253, 1402, 1552, 1701];
const colCenters = [1337, 1491, 1635];
const colHeadCenters = [1329, 1480, 1628];
const rowH = 110.4;
const rowCenterX = [1075, 1075, 1073, 1078, 1071, 1072];
const mosaicLabels = ['Epithelia <i>ADAMTSL1</i>', 'Epithelia <i>DSCAM</i>', 'Epithelia <i>OVAL</i>', 'Monocytic cell', 'Plasma cell', 'T cell'];
const totalsX = [1767, 1761, 1760, 1767, 1761, 1761];
colNames.forEach((s, i) => txt(s, colHeadCenters[i], 1452, i === 0 ? 28 : 27, {color: '#333'}));
box(1253, 1535, 448, 662, 'border:2px solid #333;box-sizing:border-box');
tableX.slice(1, 3).forEach(x => box(x - 1, 1535, 2, 662, 'background:#444'));
tableRows.forEach((r, i) => {
  const yc = 1535 + rowH * i + rowH / 2;
  if (i) box(1253, 1535 + rowH * i - 1, 448, 2, 'background:#555');
  txt(mosaicLabels[i], rowCenterX[i], yc - 2, 28);
  r.forEach((v, k) => txt(v, colCenters[k], yc - 1, 28, {bold: true}));
  txt(rowTotalLabels[i], totalsX[i], yc + 3, 33);
});
const bottomTotalX = [1334, 1483, 1632, 1758];
colTotalLabels.forEach((s, i) => txt(s, bottomTotalX[i], 2219, 33));

// ---------- panel C: trajectories ----------
const trajLayers = trajectories.map(t => path(t, '#4d4d4d', 5));
const cOutlines = [ovalOutline, plasmaOutline, tLower, tUpperLeft, tUpperRight, monoRing, adamArm, dscamArc, neckFill, tBridge, dscamBridge, dscamTail];
const outlineLayers = w => cOutlines.map(p => area(p, 'rgba(0,0,0,0)', {fill: false, borderColor: '#222', borderWidth: w}));
const solid = (p, color, w) => area(p, color, {borderColor: color, borderWidth: w});

scatterPlot([1920, 1484, 2512, 2084],
  axis(-7.38, 11.06, umapTicksX, {color: '#555', line: '#666'}),
  axis(-10.9, 6.95, umapTicksY, {color: '#555', line: '#666'}),
  outlineLayers(15).concat([
    solid(neckFill, aColors.oval, 11), solid(tBridge, aColors.t, 11),
    solid(tLower, aColors.t, 11), solid(tUpperLeft, aColors.t, 11), solid(tUpperRight, aColors.t, 11),
    solid(plasmaOutline, aColors.plasma, 11), solid(ovalOutline, aColors.oval, 11),
    solid(monoRing, '#d58ab8', 11), solid(adamArm, '#8cc26a', 9),
    solid(dscamBridge, aColors.oval, 9), solid(dscamTail, '#85add2', 9), solid(dscamArc, '#85add2', 11),
    dots(orangeDots, '#f0a860', 6),
  ], trajLayers, [
    dots(trajNodes, '#333', 6.5, {pointBorderColor: '#fff', pointBorderWidth: 3})
  ]),
  [mapText([['Epithelia ', 'OVAL', -.06, 1.85], ['Plasma cell', '', -4.05, -.56], ['Epithelia ', 'ADAMTSL1', 4.35, -.52], ['Epithelia ', 'DSCAM', 7.64, -1.35], ['Monocytic cell', '', 3.96, -3.98], ['T cell', '', 1.18, -7.37]], 25, serif)]);
txt('UMAP 1', 2222, 2134, 35);
txt('UMAP 2', 1843, 1773, 35, {rot: true});

// pseudotime colours follow the height of the map
const ptStops = [[6.2,'#1b1f6e'],[4.6,'#3e2790'],[3.4,'#7a1f8e'],[2.4,'#a8278a'],[1.4,'#d05c78'],[.5,'#e27a58'],[-.6,'#ef9a3a'],[-2.2,'#f5b32a'],[-4.4,'#e8e32d']];
function ptFill(ctx) {
  const c = ctx.chart, sy = c.scales.y;
  if (!sy || !c.chartArea) return '#ef9a3a';
  const top = sy.getPixelForValue(ptStops[0][0]), bottom = sy.getPixelForValue(ptStops[ptStops.length - 1][0]);
  const gr = c.ctx.createLinearGradient(0, top, 0, bottom);
  ptStops.forEach(s => gr.addColorStop((sy.getPixelForValue(s[0]) - top) / (bottom - top), s[1]));
  return gr;
}
const grey = '#7c7c7c';
scatterPlot([2595, 1510, 3274, 2077],
  axis(-7.42, 11.04, umapTicksX, {size: 32, color: '#444', line: '#111', width: 3}),
  axis(-10.93, 6.93, umapTicksY, {size: 32, color: '#444', line: '#333'}),
  outlineLayers(15).concat([
    solid(plasmaOutline, grey, 11), solid(tLower, grey, 11), solid(tUpperLeft, grey, 11), solid(tUpperRight, grey, 11),
    solid(tBridge, grey, 11), solid(monoRing, grey, 11), solid(dscamArc, grey, 11), solid(dscamBridge, grey, 9), solid(dscamTail, grey, 9),
    solid(ovalOutline, ptFill, 11), solid(adamArm, ptFill, 9), solid(neckFill, ptFill, 11),
    dots(yellowDots, '#eec52a', 8), dots(orangeDots, '#f0a030', 7)
  ], trajLayers, [
    dots(trajNodes, '#777', 5.5, {pointBorderColor: '#fff', pointBorderWidth: 3}),
    dots(rootNodes, '#bbb', 5, {pointBorderColor: '#111', pointBorderWidth: 3})
  ]));
txt('UMAP 1', 2951, 2137, 32);
txt('pseudotime', 3200, 1398, 40);
colorBar(3108, 1426, 39, 207, '#e8e337 0%,#f0c02f 18%,#f29a35 33%,#dc6c64 47%,#a2208c 67%,#5a2090 84%,#1d2a6e 100%', [1495, 1565]);
const ptLabels = ['10', '5', '0'];
const ptLabelY = [1489, 1559, 1627];
ptLabels.forEach((s, i) => txt(s, 3166, ptLabelY[i], 40, {left: true}));

// ---------- panel D, left ----------
const dAxis = o => Object.assign({size: 44, color: '#111', line: '#000', width: 5, tick: 10, tickColor: '#000', tickWidth: 4, pad: 8}, o);
scatterPlot([405, 2668, 1398, 3247],
  axis(-6.88, 7.68, [-4, 0, 4], dAxis({})),
  axis(-4.78, 4.32, [-2.5, 0, 2.5], dAxis({dec: 1})),
  [
    area(seuratLeft0Outline, 'rgba(236,115,105,.3)'), area(seuratLeft0Tail, 'rgba(236,115,105,.22)'), area(seuratLeft1Outline, 'rgba(24,181,184,.3)'),
    dots(seuratLeft0, '#ec7369', 7.5), dots(seuratLeft1, '#1ab4b8', 7.5)
  ],
  [mapText([['0', '', -2.45, .6], ['1', '', 4.15, -.65]], 38, sans)],
  {l: 140, r: 30, t: 30, b: 90});
txt('seurat clusters', 879, 2614, 63, {bold: true});
txt('umap 1', 910, 3347, 66);
txt('umap 2', 252, 2952, 66, {rot: true});
const leftLegendY = [2934, 2984];
['0', '1'].forEach((s, i) => {
  box(1456, leftLegendY[i] - 13, 26, 26, 'border-radius:50%;background:' + clusterColors[i === 0 ? 0 : 6]);
  txt(s, 1529, leftLegendY[i], 44);
});

// ---------- panel D, right ----------
const clusterTint = (i, a) => {
  const h = clusterColors[i];
  return 'rgba(' + parseInt(h.slice(1, 3), 16) + ',' + parseInt(h.slice(3, 5), 16) + ',' + parseInt(h.slice(5, 7), 16) + ',' + a + ')';
};
scatterPlot([1870, 2588, 2796, 3251],
  axis(-8.91, 7.22, [-8, -4, 0, 4], dAxis({})),
  axis(-5.39, 7.5, [-5, -2.5, 0, 2.5, 5], dAxis({dec: 1})),
  [
    area(seurat5Outline, clusterTint(5, .75)), area(seurat8Outline, clusterTint(8, .85)),
    area(seurat4Outline, clusterTint(4, .9)), area(seurat6Outline, clusterTint(6, .85)), area(seurat7Outline, clusterTint(7, .95)),
    area(seurat9Outline, clusterTint(9, .85)), area(seurat3Outline, clusterTint(3, 1)), area(seurat2Outline, clusterTint(2, 1)),
    area(seurat1Outline, clusterTint(1, 1)), area(seurat0Outline, clusterTint(0, 1)),
    dots(seuratDots5, clusterColors[5], 4.5), dots(seuratDots8, clusterColors[8], 4.5), dots(seuratDots6, clusterColors[6], 4.5),
    dots(seuratDots7, clusterColors[7], 4.5), dots(seuratDots4, clusterColors[4], 4.5), dots(seuratDots3, clusterColors[3], 4.5),
    dots(seuratDots2, clusterColors[2], 4.5), dots(seuratDots1, clusterColors[1], 4.5), dots(seuratDots0, clusterColors[0], 4.5),
    dots(seuratDots9, clusterColors[9], 4.5), dots(seuratDots10, clusterColors[10], 4.5), dots(seuratDots11, clusterColors[11], 4.5)
  ],
  [mapText([['0', '', -.33, .82], ['1', '', 2.22, 1.09], ['2', '', 4.57, -1.87], ['3', '', .37, -2.85], ['4', '', -6.78, -2.04], ['5', '', -4.81, 4.33], ['6', '', -4.43, -1], ['7', '', -4.22, .8], ['8', '', -3.17, 2.44], ['9', '', -1.94, -4.13], ['10', '', -2.98, 6.63], ['11', '', -1.33, 4.45]], 38, sans)],
  {l: 140, r: 30, t: 30, b: 90});
txt('seurat clusters', 2312, 2530, 60.5, {bold: true});
txt('umap 1', 2325, 3366, 66);
txt('umap 2', 1708, 2930, 66, {rot: true});
clusterColors.forEach((c, i) => {
  const y = 2598 + i * 59;
  box(2861, y - 15, 30, 30, 'border-radius:50%;background:' + c);
  txt(String(i), 2937, y, 44, {left: true});
});
</script>
</body>
</html>
